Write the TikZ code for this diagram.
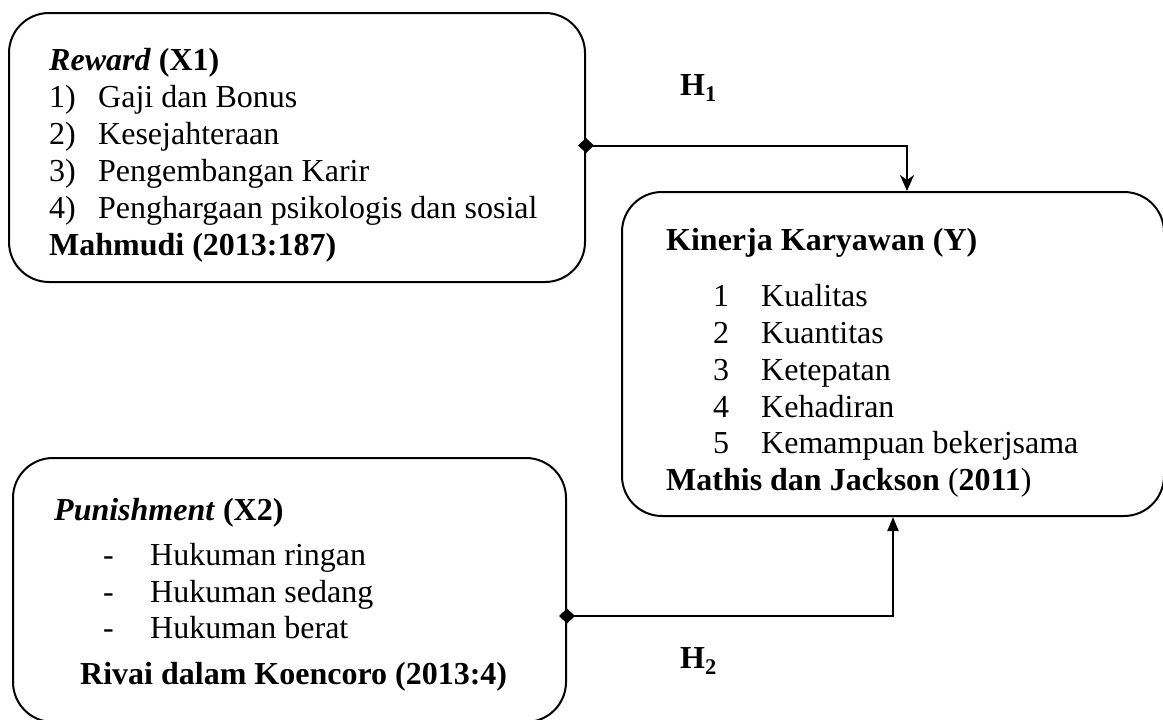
\documentclass[tikz,border=0pt]{standalone}
\usepackage{fontspec}
\setmainfont{Liberation Serif}
\usetikzlibrary{arrows.meta}
\begin{document}
\begin{tikzpicture}[x=1pt,y=1pt,
  box/.style={draw,line width=2pt,rounded corners=40pt,minimum width=#1},
  txt/.style={anchor=base west,inner sep=0pt,font=\fontsize{32}{37}\selectfont},
  conn/.style={line width=2pt,shorten <=-8pt},
  startdia/.style={{Diamond[length=16pt,width=15pt]}-{Stealth[length=16pt,width=14pt,inset=5pt]}},
  startdiatri/.style={{Diamond[length=16pt,width=15pt]}-{Triangle[length=14pt,width=11pt]}}
]
\useasboundingbox (0,0) rectangle (1163,-720);
\clip (0,0) rectangle (1163,-720);
% boxes
\node[box=576pt,minimum height=269pt] (boxA) at (297,-147.5) {};
\node[box=542pt,minimum height=324pt] (boxY) at (893,-354) {};
\node[box=553pt,minimum height=264pt] (boxB) at (289.5,-590) {};
% box A text
\node[txt] (a0) at (49,-70) {\textbf{\textit{Reward} (X1)}};
\node[txt] (a1n) at (49,-107) {1)};
\node[txt] (a1) at (98,-107) {Gaji dan Bonus};
\node[txt] (a2n) at (49,-144) {2)};
\node[txt] (a2) at (98,-144) {Kesejahteraan};
\node[txt] (a3n) at (49,-181) {3)};
\node[txt] (a3) at (98,-181) {Pengembangan Karir};
\node[txt] (a4n) at (49,-218) {4)};
\node[txt] (a4) at (98,-218) {Penghargaan psikologis dan sosial};
\node[txt] (a5) at (49,-255) {\textbf{Mahmudi (2013:187)}};
% box Y text
\node[txt] (y0) at (666,-250) {\textbf{Kinerja Karyawan (Y)}};
\node[txt] (y1n) at (713,-306) {1};
\node[txt] (y1) at (761,-306) {Kualitas};
\node[txt] (y2n) at (713,-343) {2};
\node[txt] (y2) at (761,-343) {Kuantitas};
\node[txt] (y3n) at (713,-380) {3};
\node[txt] (y3) at (761,-380) {Ketepatan};
\node[txt] (y4n) at (713,-417) {4};
\node[txt] (y4) at (761,-417) {Kehadiran};
\node[txt] (y5n) at (713,-453) {5};
\node[txt] (y5) at (761,-453) {Kemampuan bekerjsama};
\node[txt] (y6) at (666,-490) {\textbf{Mathis dan Jackson} (\textbf{2011})};
% box B text
\node[txt] (b0) at (54,-520) {\textbf{\textit{Punishment} (X2)}};
\node[txt] (b1n) at (103,-565) {-};
\node[txt] (b1) at (150,-565) {Hukuman ringan};
\node[txt] (b2n) at (103,-602) {-};
\node[txt] (b2) at (150,-602) {Hukuman sedang};
\node[txt] (b3n) at (103,-638) {-};
\node[txt] (b3) at (150,-638) {Hukuman berat};
\node[txt] (b4) at (80,-684) {\textbf{Rivai dalam Koencoro (2013:4)}};
% hypothesis labels
\node[txt] (h1) at (680,-95) {\textbf{H\textsubscript{1}}};
\node[txt] (h2) at (680,-668) {\textbf{H\textsubscript{2}}};
% connectors
\draw[conn,startdia] ([yshift=2pt]boxA.east) -| ([xshift=14pt]boxY.north);
\draw[conn,startdiatri] ([yshift=-26pt]boxB.east) -| (boxY.south);
\end{tikzpicture}
\end{document}
